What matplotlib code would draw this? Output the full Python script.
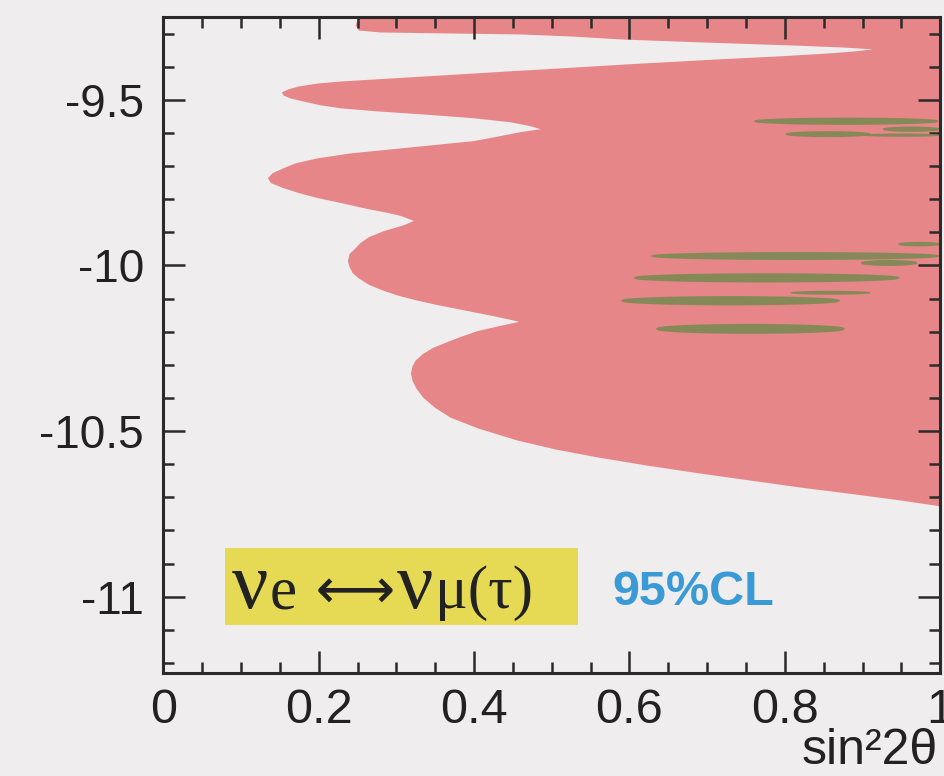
import numpy as np
import matplotlib.pyplot as plt
from matplotlib.patches import Rectangle
from matplotlib.ticker import FixedLocator, FixedFormatter, MultipleLocator
from matplotlib.offsetbox import TextArea, HPacker, AnchoredOffsetbox

# left edge of the 95% CL allowed region: for each log(dm2) the region spans x_left .. 1
edge_y = [-9.25, -9.274, -9.289, -9.295, -9.298, -9.301, -9.307, -9.316, -9.325, -9.334,
          -9.340, -9.346, -9.352, -9.358, -9.367, -9.376, -9.389, -9.398, -9.407, -9.413,
          -9.419, -9.425, -9.434, -9.443, -9.449, -9.458, -9.467, -9.476, -9.485, -9.494,
          -9.503, -9.515, -9.524, -9.533, -9.542, -9.554, -9.566, -9.578, -9.587, -9.596,
          -9.608, -9.623, -9.642, -9.660, -9.675, -9.690, -9.705, -9.720, -9.735, -9.750,
          -9.765, -9.780, -9.795, -9.810, -9.828, -9.840, -9.849, -9.864, -9.877, -9.895,
          -9.913, -9.931, -9.946, -9.964, -9.985, -10.003, -10.021, -10.036, -10.057, -10.075,
          -10.090, -10.105, -10.120, -10.136, -10.151, -10.166, -10.169, -10.181, -10.196, -10.211,
          -10.226, -10.247, -10.265, -10.286, -10.304, -10.325, -10.346, -10.370, -10.398, -10.428,
          -10.458, -10.491, -10.527, -10.554, -10.578, -10.602, -10.627, -10.648, -10.669, -10.690,
          -10.708, -10.726]
edge_x = [0.250, 0.247, 0.251, 0.279, 0.369, 0.459, 0.524, 0.588, 0.691, 0.806,
          0.871, 0.913, 0.890, 0.858, 0.794, 0.716, 0.614, 0.549, 0.485, 0.440,
          0.399, 0.356, 0.292, 0.228, 0.199, 0.174, 0.160, 0.152, 0.154, 0.163,
          0.179, 0.202, 0.228, 0.273, 0.331, 0.399, 0.446, 0.472, 0.485, 0.459,
          0.433, 0.399, 0.318, 0.241, 0.198, 0.170, 0.154, 0.140, 0.134, 0.138,
          0.154, 0.174, 0.198, 0.228, 0.262, 0.289, 0.305, 0.322, 0.309, 0.283,
          0.264, 0.253, 0.247, 0.239, 0.237, 0.239, 0.243, 0.250, 0.264, 0.283,
          0.302, 0.327, 0.356, 0.391, 0.423, 0.453, 0.457, 0.433, 0.405, 0.386,
          0.369, 0.347, 0.334, 0.324, 0.320, 0.318, 0.320, 0.325, 0.334, 0.349,
          0.369, 0.405, 0.455, 0.504, 0.558, 0.620, 0.691, 0.755, 0.819, 0.890,
          0.948, 1.0]

# best-fit streaks: centre log(dm2), x start, x end, thickness
streak_y = [-9.563, -9.602, -9.587, -9.605, -9.970, -9.934, -9.991, -10.036, -10.105, -10.081, -10.190]
streak_x0 = [0.759, 0.800, 0.925, 0.900, 0.626, 0.945, 0.897, 0.604, 0.588, 0.806, 0.633]
streak_x1 = [0.998, 0.910, 1.000, 1.000, 1.000, 1.000, 0.970, 0.948, 0.871, 0.910, 0.877]
streak_w = [0.022, 0.018, 0.016, 0.010, 0.024, 0.014, 0.018, 0.028, 0.028, 0.012, 0.030]

x_ticks = [0, 0.2, 0.4, 0.6, 0.8, 1.0]
x_labels = ['0', '0.2', '0.4', '0.6', '0.8', '1']
y_ticks = [-9.5, -10, -10.5, -11]
y_labels = ['-9.5', '-10', '-10.5', '-11']

bg = '#efeded'
red = '#e78689'
green = '#7b8a52'
ink = '#222222'

fig = plt.figure(figsize=(9.44, 7.76), dpi=100, facecolor=bg)
ax = fig.add_axes([0.173, 0.133, 0.823, 0.845], facecolor=bg)

ax.fill_betweenx(edge_y, edge_x, 1.0, color=red, lw=0, zorder=1)

for yc, x0, x1, w in zip(streak_y, streak_x0, streak_x1, streak_w):
    u = np.linspace(0, 1, 80)
    xs = x0 + (x1 - x0) * u
    half = w / 2 * np.sin(np.pi * u) ** 0.35
    ax.fill_between(xs, yc - half, yc + half, color=green, lw=0, alpha=0.9, zorder=2)

ax.set_xlim(0, 1)
ax.set_ylim(-11.23, -9.25)

ax.xaxis.set_major_locator(FixedLocator(x_ticks))
ax.xaxis.set_major_formatter(FixedFormatter(x_labels))
ax.xaxis.set_minor_locator(MultipleLocator(0.05))
ax.yaxis.set_major_locator(FixedLocator(y_ticks))
ax.yaxis.set_major_formatter(FixedFormatter(y_labels))
ax.yaxis.set_minor_locator(MultipleLocator(0.1))

ax.tick_params(which='both', direction='in', top=True, right=True, color='#2a2a2a', width=1.8)
ax.tick_params(which='major', length=16)
ax.tick_params(which='minor', length=8)
ax.tick_params(axis='x', which='major', labelsize=35, pad=11, labelcolor=ink)
ax.tick_params(axis='y', which='major', labelsize=33, pad=14, labelcolor=ink)
for lab in ax.get_xticklabels() + ax.get_yticklabels():
    lab.set_family('Liberation Sans')

for sp in ax.spines.values():
    sp.set_linewidth(2.2)
    sp.set_color('#2a2a2a')
    sp.set_zorder(5)

ax.add_patch(Rectangle((0.080, 0.073), 0.454, 0.118, transform=ax.transAxes,
                       facecolor='#e6da55', edgecolor='none', zorder=3))

# channel label: big nu glyphs, long arrow
serif = ['Liberation Serif', 'DejaVu Serif']
big = dict(fontsize=58, family=serif, color=ink)
small = dict(fontsize=44, family=serif, color=ink)
parts = [TextArea('ν', textprops=big),
         TextArea('e', textprops=small),
         TextArea(' ⟷', textprops=dict(fontsize=40, family='DejaVu Sans', color=ink)),
         TextArea('ν', textprops=big),
         TextArea('μ(τ)', textprops=small)]
label = HPacker(children=parts, align='baseline', pad=0, sep=1)
box = AnchoredOffsetbox(loc='center left', child=label, frameon=False, pad=0, borderpad=0,
                        bbox_to_anchor=(0.088, 0.128), bbox_transform=ax.transAxes)
box.set_zorder(4)
ax.add_artist(box)

ax.text(0.578, 0.122, '95%CL', transform=ax.transAxes, ha='left', va='center',
        fontsize=35, fontweight='bold', family='Liberation Sans', color='#3a9ad6', zorder=4)

ax.text(0.997, -0.12, 'sin²2θ', transform=ax.transAxes, ha='right', va='center',
        fontsize=36, family=['Liberation Sans', 'DejaVu Sans'], color=ink)

fig.savefig('out.png', dpi=100, facecolor=bg)
